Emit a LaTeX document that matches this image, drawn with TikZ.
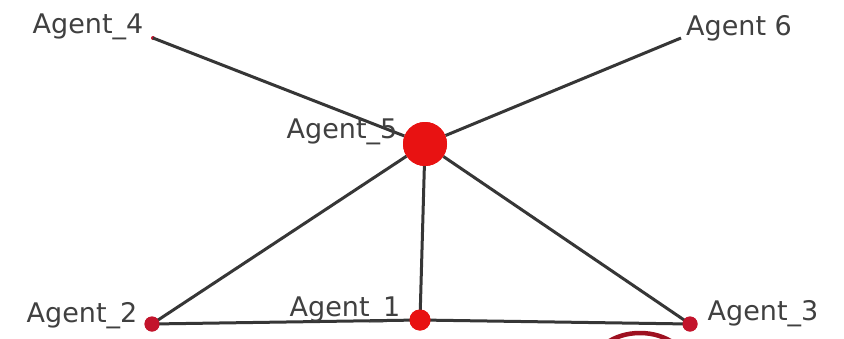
\documentclass[tikz,border=0pt]{standalone}
\usepackage{fontspec}
\setmainfont{DejaVu Sans}
\definecolor{edgegray}{HTML}{363636}
\definecolor{labelgray}{HTML}{404040}
\definecolor{hubred}{HTML}{E81212}
\definecolor{leafred}{HTML}{C3142C}
\definecolor{ringred}{HTML}{9E1020}
\begin{document}
\begin{tikzpicture}[x=1pt,y=-1pt,
  link/.style={draw=edgegray,line width=3pt},
  agent/.style={circle,fill=leafred,inner sep=0pt,minimum size=15pt},
  hub/.style={circle,fill=hubred,inner sep=0pt,minimum size=44pt},
  tag/.style={text=labelgray,font=\fontsize{27}{27}\selectfont,inner sep=0pt}]
\useasboundingbox[fill=white] (0,0) rectangle (844,338);

% agents (positions)
\node[hub] (a5) at (425,144) {};
\node[agent,fill=hubred,minimum size=21pt] (a1) at (420,320) {};
\node[agent] (a2) at (152,324) {};
\node[agent] (a3) at (690,324) {};
\node[circle,fill=leafred,inner sep=0pt,minimum size=4pt] (a4) at (153,38) {};
\coordinate (a6) at (681,38);

% connections
\draw[link] (a4.center) -- (a5);
\draw[link] (a6) -- (a5);
\draw[link] (a5) -- (a2.center);
\draw[link] (a5) -- (a1.center);
\draw[link] (a5) -- (a3.center);
\draw[link] (a2.center) -- (a1.center);
\draw[link] (a1.center) -- (a3.center);

% agents drawn again above the links
\node[hub] at (a5) {};
\node[agent,fill=hubred,minimum size=21pt] at (a1) {};
\node[agent] at (a2) {};
\node[agent] at (a3) {};

% ring partly below the lower edge
\begin{scope}
\clip (0,0) rectangle (844,338);
\draw[ringred,line width=4.5pt] (640,368) ellipse [x radius=48, y radius=35];
\end{scope}

% labels
\node[tag] (l4) at (88,27) {Agent\_4};
\node[tag] (l6) at (739,28) {Agent 6};
\node[tag] (l5) at (342,132) {Agent\_5};
\node[tag] (l2) at (82,316) {Agent\_2};
\node[tag] (l1) at (345,310) {Agent\_1};
\node[tag] (l3) at (763,314) {Agent\_3};
\end{tikzpicture}
\end{document}
